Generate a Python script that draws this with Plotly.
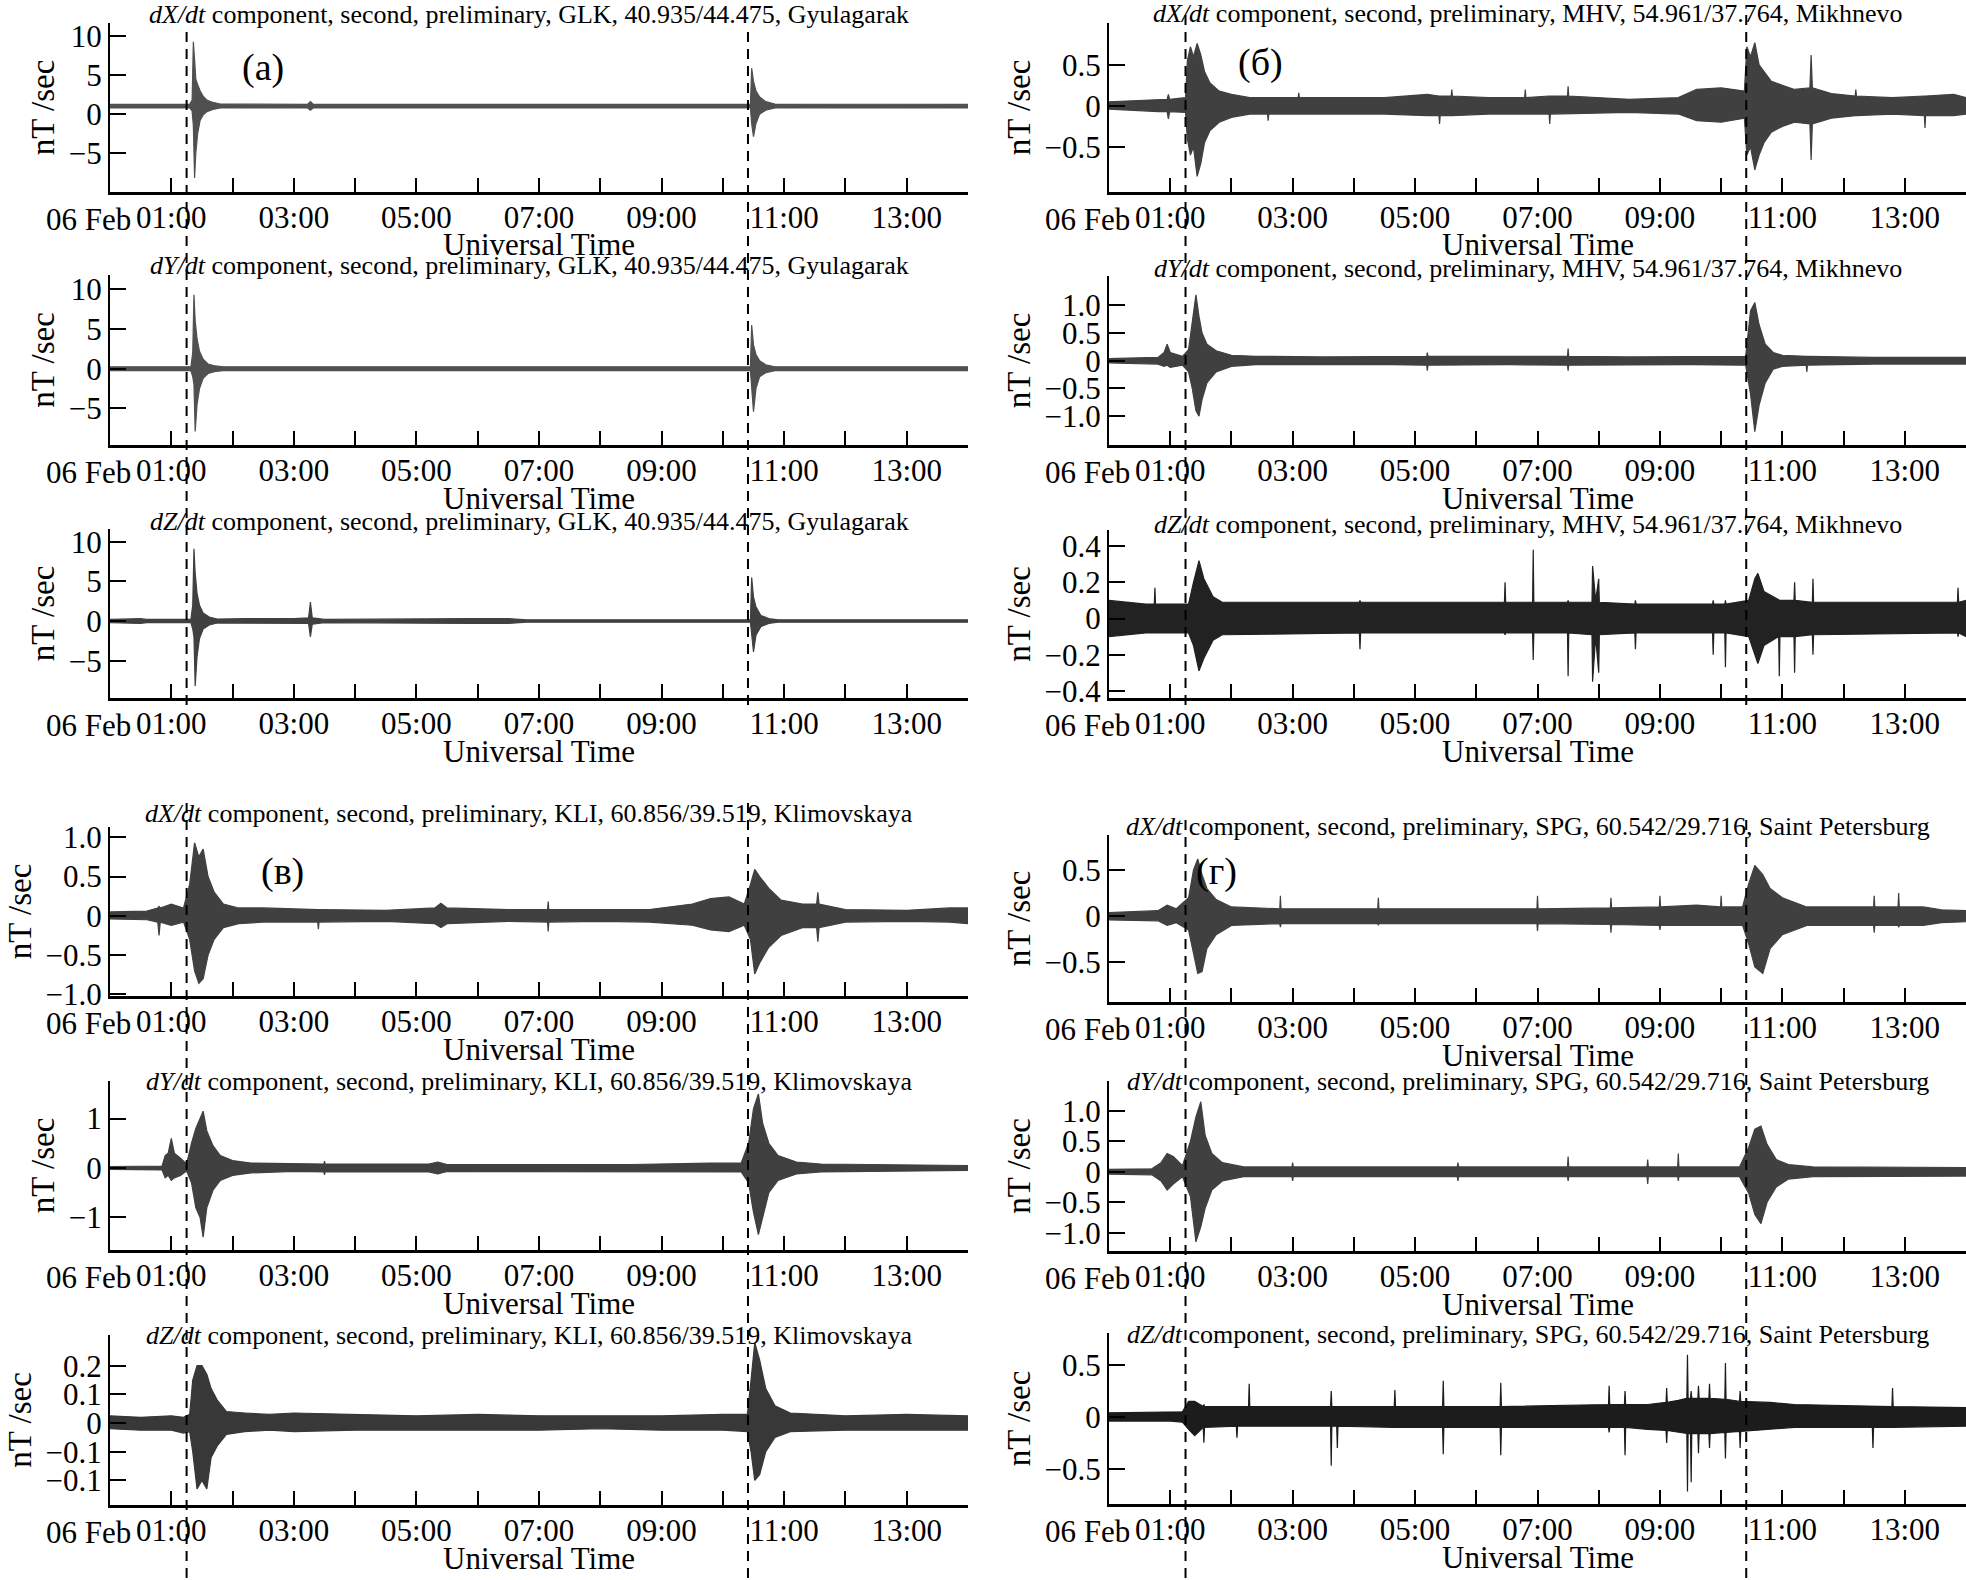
import plotly.graph_objects as go

# envelopes of the dB/dt records: (hours UT on 06 Feb, lower, upper), nT/sec
GLK_DX = [(0.0, 0.8, 1.25), (1.30, 0.8, 1.25), (1.34, 0.4, 1.8), (1.36, -1.5, 9.3), (1.38, -8.2, 7.0),
          (1.40, -5.0, 4.5), (1.43, -2.5, 3.8), (1.47, -0.8, 3.0), (1.52, -0.1, 2.3), (1.58, 0.3, 1.8),
          (1.68, 0.6, 1.5), (1.80, 0.8, 1.3), (3.22, 0.8, 1.25), (3.27, 0.5, 1.6), (3.32, 0.8, 1.25),
          (10.45, 0.8, 1.25), (10.47, -1.2, 5.9), (10.50, -2.9, 4.2), (10.54, -1.2, 3.0), (10.60, 0.0, 2.2),
          (10.70, 0.5, 1.6), (10.85, 0.8, 1.3), (14.0, 0.8, 1.25)]
GLK_DY = [(0.0, -0.25, 0.25), (1.32, -0.25, 0.25), (1.35, -1.0, 2.0), (1.37, -2.0, 9.3), (1.39, -7.9, 6.0),
          (1.42, -4.5, 3.8), (1.46, -2.5, 2.2), (1.52, -1.2, 1.2), (1.60, -0.6, 0.6), (1.72, -0.35, 0.35),
          (1.85, -0.25, 0.25), (10.45, -0.25, 0.25), (10.47, -2.0, 5.5), (10.50, -5.4, 3.0), (10.54, -2.5, 1.8),
          (10.60, -1.0, 1.0), (10.70, -0.5, 0.5), (10.85, -0.25, 0.25), (14.0, -0.25, 0.25)]
GLK_DZ = [(0.0, -0.2, 0.2), (0.5, -0.3, 0.3), (0.6, -0.2, 0.2), (1.32, -0.2, 0.2), (1.35, -1.0, 2.0),
          (1.37, -2.0, 9.1), (1.39, -8.2, 6.0), (1.42, -4.5, 3.5), (1.46, -2.2, 2.0), (1.52, -1.0, 1.0),
          (1.62, -0.5, 0.5), (1.75, -0.25, 0.25), (2.2, -0.3, 0.3), (3.0, -0.3, 0.3), (3.24, -0.3, 0.4),
          (3.27, -2.0, 2.4), (3.30, -0.4, 0.4), (3.5, -0.2, 0.2), (5.9, -0.3, 0.3), (6.5, -0.3, 0.3),
          (6.8, -0.15, 0.15), (10.45, -0.15, 0.15), (10.47, -2.0, 5.5), (10.50, -3.9, 3.0), (10.54, -1.8, 1.8),
          (10.62, -0.7, 0.7), (10.75, -0.3, 0.3), (10.9, -0.15, 0.15), (14.0, -0.15, 0.15)]

MHV_DX = [(0.0, -0.04, 0.05), (0.8, -0.07, 0.08), (0.95, -0.07, 0.08), (0.97, -0.16, 0.14), (0.99, -0.07, 0.08),
          (1.25, -0.08, 0.1), (1.28, -0.4, 0.55), (1.33, -0.6, 0.72), (1.38, -0.5, 0.6), (1.44, -0.86, 0.76),
          (1.5, -0.7, 0.62), (1.56, -0.45, 0.42), (1.65, -0.3, 0.28), (1.8, -0.2, 0.18), (2.0, -0.14, 0.14),
          (2.3, -0.1, 0.1), (2.59, -0.1, 0.1), (2.6, -0.18, 0.1), (2.61, -0.1, 0.1), (3.09, -0.1, 0.1),
          (3.1, -0.1, 0.16), (3.11, -0.1, 0.1), (4.5, -0.1, 0.1), (5.2, -0.12, 0.14), (5.39, -0.12, 0.12),
          (5.4, -0.22, 0.12), (5.41, -0.12, 0.12), (5.59, -0.12, 0.12), (5.6, -0.12, 0.2), (5.61, -0.12, 0.12),
          (6.2, -0.1, 0.1), (6.79, -0.1, 0.1), (6.8, -0.1, 0.2), (6.81, -0.1, 0.1), (7.19, -0.1, 0.12),
          (7.2, -0.22, 0.12), (7.21, -0.1, 0.12), (7.49, -0.1, 0.12), (7.5, -0.1, 0.24), (7.51, -0.1, 0.12),
          (8.5, -0.08, 0.08), (9.3, -0.1, 0.1), (9.6, -0.18, 0.2), (10.0, -0.2, 0.22), (10.38, -0.15, 0.18),
          (10.42, -0.6, 0.72), (10.48, -0.5, 0.6), (10.55, -0.78, 0.77), (10.62, -0.6, 0.5), (10.7, -0.45, 0.42),
          (10.82, -0.32, 0.3), (11.0, -0.25, 0.25), (11.2, -0.2, 0.2), (11.45, -0.22, 0.22), (11.47, -0.66, 0.62),
          (11.49, -0.22, 0.22), (11.8, -0.15, 0.15), (12.19, -0.12, 0.12), (12.2, -0.12, 0.2), (12.21, -0.12, 0.12),
          (12.8, -0.1, 0.1), (13.32, -0.12, 0.12), (13.33, -0.27, 0.12), (13.34, -0.12, 0.12), (13.8, -0.12, 0.14),
          (14.0, -0.1, 0.1)]
MHV_DY = [(0.0, -0.04, 0.04), (0.8, -0.06, 0.06), (0.9, -0.1, 0.15), (0.95, -0.08, 0.3), (1.0, -0.12, 0.15),
          (1.2, -0.08, 0.08), (1.3, -0.2, 0.2), (1.36, -0.5, 0.7), (1.42, -0.9, 1.19), (1.47, -1.0, 0.8),
          (1.52, -0.7, 0.5), (1.6, -0.4, 0.3), (1.75, -0.2, 0.18), (2.0, -0.1, 0.1), (2.4, -0.07, 0.08),
          (3.5, -0.07, 0.07), (4.6, -0.07, 0.08), (5.19, -0.08, 0.08), (5.2, -0.18, 0.15), (5.21, -0.08, 0.08),
          (6.5, -0.07, 0.08), (7.49, -0.08, 0.08), (7.5, -0.18, 0.22), (7.51, -0.08, 0.08), (8.5, -0.07, 0.07),
          (9.5, -0.07, 0.08), (10.4, -0.08, 0.08), (10.48, -0.6, 0.9), (10.55, -1.28, 1.05), (10.62, -0.8, 0.65),
          (10.72, -0.4, 0.3), (10.85, -0.15, 0.15), (11.0, -0.1, 0.1), (11.39, -0.08, 0.08), (11.4, -0.2, 0.08),
          (11.41, -0.08, 0.08), (12.5, -0.06, 0.06), (14.0, -0.06, 0.06)]
MHV_DZ = [(0.0, -0.1, 0.1), (0.6, -0.08, 0.08), (0.74, -0.08, 0.08), (0.75, -0.08, 0.17), (0.76, -0.08, 0.08),
          (1.3, -0.08, 0.08), (1.38, -0.15, 0.2), (1.47, -0.29, 0.32), (1.55, -0.22, 0.22), (1.7, -0.12, 0.12),
          (1.85, -0.09, 0.09), (4.09, -0.08, 0.09), (4.1, -0.17, 0.1), (4.11, -0.08, 0.09), (6.46, -0.08, 0.09),
          (6.47, -0.09, 0.2), (6.48, -0.08, 0.09), (6.92, -0.08, 0.09), (6.93, -0.23, 0.38), (6.94, -0.08, 0.09),
          (7.49, -0.08, 0.09), (7.5, -0.32, 0.1), (7.51, -0.08, 0.09), (7.89, -0.09, 0.09), (7.9, -0.35, 0.29),
          (7.95, -0.1, 0.1), (8.0, -0.3, 0.22), (8.01, -0.09, 0.09), (8.59, -0.08, 0.08), (8.6, -0.17, 0.1),
          (8.61, -0.08, 0.08), (9.86, -0.08, 0.08), (9.87, -0.2, 0.1), (9.88, -0.08, 0.08), (10.06, -0.08, 0.08),
          (10.07, -0.27, 0.1), (10.08, -0.08, 0.08), (10.45, -0.1, 0.1), (10.55, -0.2, 0.22), (10.6, -0.25, 0.25),
          (10.7, -0.15, 0.15), (10.94, -0.1, 0.1), (10.95, -0.32, 0.1), (10.96, -0.1, 0.1), (11.19, -0.1, 0.1),
          (11.2, -0.3, 0.2), (11.21, -0.1, 0.1), (11.49, -0.09, 0.09), (11.5, -0.2, 0.22), (11.51, -0.09, 0.09),
          (13.86, -0.08, 0.09), (13.87, -0.1, 0.17), (13.88, -0.08, 0.09), (14.0, -0.1, 0.1)]

KLI_DX = [(0.0, -0.04, 0.05), (0.6, -0.05, 0.06), (0.78, -0.08, 0.1), (0.8, -0.25, 0.12), (0.82, -0.08, 0.1),
          (1.0, -0.12, 0.15), (1.2, -0.08, 0.1), (1.3, -0.3, 0.4), (1.38, -0.7, 0.93), (1.45, -0.86, 0.75),
          (1.52, -0.8, 0.85), (1.6, -0.5, 0.5), (1.7, -0.3, 0.3), (1.85, -0.15, 0.15), (2.1, -0.1, 0.1),
          (2.5, -0.08, 0.1), (3.39, -0.08, 0.08), (3.4, -0.17, 0.08), (3.41, -0.08, 0.08), (4.5, -0.07, 0.07),
          (5.3, -0.1, 0.1), (5.4, -0.15, 0.16), (5.5, -0.1, 0.1), (6.5, -0.07, 0.08), (7.14, -0.08, 0.08),
          (7.15, -0.2, 0.18), (7.16, -0.08, 0.08), (8.0, -0.07, 0.08), (8.8, -0.08, 0.08), (9.5, -0.12, 0.15),
          (9.8, -0.18, 0.22), (10.1, -0.2, 0.24), (10.35, -0.12, 0.15), (10.45, -0.3, 0.4), (10.52, -0.74, 0.59),
          (10.6, -0.6, 0.5), (10.75, -0.4, 0.35), (10.95, -0.25, 0.2), (11.3, -0.15, 0.15), (11.53, -0.15, 0.15),
          (11.55, -0.33, 0.3), (11.57, -0.15, 0.15), (12.0, -0.08, 0.08), (13.0, -0.07, 0.07), (13.7, -0.08, 0.1),
          (14.0, -0.1, 0.1)]
KLI_DY = [(0.0, -0.03, 0.03), (0.85, -0.04, 0.04), (0.9, -0.2, 0.25), (0.95, -0.15, 0.3), (1.0, -0.25, 0.6),
          (1.05, -0.2, 0.3), (1.15, -0.15, 0.2), (1.25, -0.06, 0.08), (1.33, -0.3, 0.5), (1.40, -0.8, 0.8),
          (1.47, -1.0, 1.0), (1.52, -1.4, 1.15), (1.58, -0.8, 0.75), (1.68, -0.45, 0.45), (1.8, -0.25, 0.25),
          (2.0, -0.15, 0.15), (2.3, -0.1, 0.1), (3.0, -0.07, 0.08), (3.49, -0.08, 0.08), (3.5, -0.14, 0.14),
          (3.51, -0.08, 0.08), (5.2, -0.08, 0.08), (5.35, -0.12, 0.12), (5.5, -0.07, 0.07), (7.0, -0.07, 0.07),
          (8.5, -0.08, 0.07), (9.8, -0.08, 0.1), (10.3, -0.08, 0.1), (10.42, -0.3, 0.5), (10.5, -0.9, 1.2),
          (10.58, -1.35, 1.5), (10.65, -1.0, 0.9), (10.75, -0.5, 0.5), (10.9, -0.25, 0.25), (11.2, -0.12, 0.12),
          (11.6, -0.08, 0.08), (14.0, -0.05, 0.05)]
KLI_DZ = [(0.0, -0.02, 0.025), (0.5, -0.025, 0.02), (1.0, -0.025, 0.025), (1.2, -0.035, 0.02), (1.3, -0.03, 0.03),
          (1.35, -0.1, 0.15), (1.42, -0.23, 0.2), (1.5, -0.2, 0.2), (1.58, -0.23, 0.17), (1.65, -0.12, 0.12),
          (1.75, -0.08, 0.08), (1.9, -0.04, 0.04), (2.2, -0.03, 0.035), (2.6, -0.025, 0.03), (3.0, -0.03, 0.035),
          (4.0, -0.025, 0.03), (5.0, -0.025, 0.025), (6.0, -0.025, 0.03), (7.0, -0.025, 0.025), (8.0, -0.02, 0.025),
          (9.0, -0.025, 0.025), (10.0, -0.025, 0.03), (10.4, -0.03, 0.03), (10.46, -0.1, 0.15), (10.52, -0.2, 0.28),
          (10.6, -0.18, 0.22), (10.7, -0.1, 0.12), (10.85, -0.05, 0.06), (11.1, -0.03, 0.035), (12.0, -0.025, 0.025),
          (13.0, -0.025, 0.03), (14.0, -0.025, 0.025)]

SPG_DX = [(0.0, -0.04, 0.04), (0.8, -0.05, 0.06), (0.95, -0.1, 0.12), (1.1, -0.07, 0.08), (1.3, -0.15, 0.2),
          (1.38, -0.4, 0.5), (1.45, -0.62, 0.62), (1.52, -0.6, 0.45), (1.6, -0.35, 0.3), (1.75, -0.2, 0.18),
          (2.0, -0.1, 0.1), (2.79, -0.08, 0.08), (2.8, -0.12, 0.22), (2.81, -0.08, 0.08), (4.39, -0.08, 0.08),
          (4.4, -0.1, 0.2), (4.41, -0.08, 0.08), (5.5, -0.08, 0.08), (6.99, -0.08, 0.08), (7.0, -0.16, 0.22),
          (7.01, -0.08, 0.08), (8.19, -0.09, 0.09), (8.2, -0.18, 0.2), (8.21, -0.09, 0.09), (8.99, -0.1, 0.1),
          (9.0, -0.15, 0.22), (9.01, -0.1, 0.1), (9.6, -0.1, 0.12), (9.99, -0.1, 0.1), (10.0, -0.1, 0.22),
          (10.01, -0.1, 0.1), (10.35, -0.1, 0.1), (10.45, -0.3, 0.35), (10.55, -0.55, 0.55), (10.68, -0.62, 0.45),
          (10.8, -0.35, 0.3), (11.0, -0.2, 0.2), (11.4, -0.1, 0.1), (12.49, -0.1, 0.1), (12.5, -0.18, 0.22),
          (12.51, -0.1, 0.1), (12.89, -0.1, 0.1), (12.9, -0.12, 0.25), (12.91, -0.1, 0.1), (13.3, -0.1, 0.1),
          (13.6, -0.07, 0.07), (14.0, -0.06, 0.06)]
SPG_DY = [(0.0, -0.04, 0.04), (0.7, -0.05, 0.05), (0.85, -0.15, 0.15), (0.95, -0.3, 0.3), (1.05, -0.2, 0.25),
          (1.2, -0.08, 0.1), (1.33, -0.4, 0.5), (1.42, -1.15, 0.9), (1.5, -0.9, 1.15), (1.57, -0.6, 0.6),
          (1.68, -0.3, 0.3), (1.85, -0.15, 0.15), (2.2, -0.08, 0.08), (2.99, -0.08, 0.08), (3.0, -0.15, 0.15),
          (3.01, -0.08, 0.08), (5.69, -0.08, 0.08), (5.7, -0.15, 0.15), (5.71, -0.08, 0.08), (7.49, -0.08, 0.08),
          (7.5, -0.15, 0.25), (7.51, -0.08, 0.08), (8.79, -0.08, 0.08), (8.8, -0.2, 0.2), (8.81, -0.08, 0.08),
          (9.29, -0.08, 0.08), (9.3, -0.15, 0.3), (9.31, -0.08, 0.08), (10.3, -0.08, 0.08), (10.45, -0.35, 0.4),
          (10.55, -0.7, 0.7), (10.65, -0.85, 0.75), (10.75, -0.5, 0.45), (10.9, -0.25, 0.2), (11.1, -0.12, 0.12),
          (11.5, -0.08, 0.08), (14.0, -0.07, 0.07)]
SPG_DZ = [(0.0, -0.04, 0.04), (1.0, -0.04, 0.05), (1.2, -0.05, 0.05), (1.3, -0.12, 0.15), (1.4, -0.18, 0.15),
          (1.54, -0.1, 0.1), (1.55, -0.25, 0.12), (1.56, -0.1, 0.1), (2.08, -0.09, 0.1), (2.09, -0.2, 0.1),
          (2.1, -0.09, 0.1), (2.28, -0.09, 0.1), (2.29, -0.09, 0.32), (2.3, -0.09, 0.1), (3.62, -0.09, 0.1),
          (3.63, -0.47, 0.25), (3.64, -0.09, 0.1), (3.72, -0.09, 0.1), (3.73, -0.3, 0.1), (3.74, -0.09, 0.1),
          (4.66, -0.1, 0.1), (4.67, -0.1, 0.26), (4.68, -0.1, 0.1), (5.45, -0.1, 0.1), (5.46, -0.36, 0.35),
          (5.47, -0.1, 0.1), (6.39, -0.1, 0.1), (6.4, -0.37, 0.33), (6.41, -0.1, 0.1), (8.16, -0.1, 0.12),
          (8.17, -0.15, 0.3), (8.18, -0.1, 0.12), (8.42, -0.1, 0.12), (8.43, -0.37, 0.25), (8.44, -0.1, 0.12),
          (8.8, -0.12, 0.12), (9.1, -0.13, 0.14), (9.11, -0.25, 0.28), (9.12, -0.13, 0.14), (9.3, -0.15, 0.16),
          (9.44, -0.16, 0.18), (9.45, -0.72, 0.6), (9.46, -0.16, 0.18), (9.5, -0.16, 0.18), (9.51, -0.63, 0.25),
          (9.52, -0.16, 0.18), (9.62, -0.16, 0.18), (9.63, -0.35, 0.3), (9.64, -0.16, 0.18), (9.8, -0.16, 0.18),
          (9.81, -0.3, 0.32), (9.82, -0.16, 0.18), (10.06, -0.15, 0.17), (10.07, -0.4, 0.52), (10.08, -0.15, 0.17),
          (10.3, -0.14, 0.15), (10.31, -0.3, 0.25), (10.32, -0.14, 0.15), (10.8, -0.12, 0.14), (11.2, -0.1, 0.12),
          (12.47, -0.1, 0.1), (12.48, -0.3, 0.1), (12.49, -0.1, 0.1), (12.79, -0.1, 0.1), (12.8, -0.1, 0.28),
          (12.81, -0.1, 0.1), (14.0, -0.09, 0.09)]

EVENT_TIMES = [1.25, 10.41]  # dashed markers, hours UT
HOURS = list(range(1, 14))
HOUR_LABELS = [f"{h:02d}:00" if h % 2 else "" for h in HOURS]

STATIONS = {
    "GLK": "GLK, 40.935/44.475, Gyulagarak",
    "MHV": "MHV, 54.961/37.764, Mikhnevo",
    "KLI": "KLI, 60.856/39.519, Klimovskaya",
    "SPG": "SPG, 60.542/29.716, Saint Petersburg",
}

W, H = 1966, 1580
FONT = "Liberation Serif"
COLS = [(110, 968), (1109, 1966)]


def py(p):
    return 1 - p / H


def px(p):
    return p / W


def title(comp, st):
    return f"<i>d{comp}/dt</i> component, second, preliminary, {STATIONS[st]}"


# col, top, bottom (px), title y, data, component, station, y range, tick values, tick labels, colour
panels = [
    (0, 23, 192, 14, GLK_DX, "X", "GLK", [-10, 11.7], [-5, 0, 5, 10], ["−5", "0", "5", "10"], "#505050"),
    (0, 275, 445, 265, GLK_DY, "Y", "GLK", [-9.6, 11.8], [-5, 0, 5, 10], ["−5", "0", "5", "10"], "#505050"),
    (0, 529, 698, 521, GLK_DZ, "Z", "GLK", [-9.7, 11.6], [-5, 0, 5, 10], ["−5", "0", "5", "10"], "#404040"),
    (0, 827, 996, 813, KLI_DX, "X", "KLI", [-1.02, 1.13], [-1, -0.5, 0, 0.5, 1],
     ["−1.0", "−0.5", "0", "0.5", "1.0"], "#404040"),
    (0, 1081, 1250, 1081, KLI_DY, "Y", "KLI", [-1.66, 1.76], [-1, 0, 1], ["−1", "0", "1"], "#404040"),
    (0, 1335, 1505, 1335, KLI_DZ, "Z", "KLI", [-0.286, 0.307], [-0.2, -0.1, 0, 0.1, 0.2],
     ["−0.1", "−0.1", "0", "0.1", "0.2"], "#383838"),
    (1, 23, 192, 13, MHV_DX, "X", "MHV", [-1.05, 1.01], [-0.5, 0, 0.5], ["−0.5", "0", "0.5"], "#404040"),
    (1, 276, 445, 268, MHV_DY, "Y", "MHV", [-1.52, 1.53], [-1, -0.5, 0, 0.5, 1],
     ["−1.0", "−0.5", "0", "0.5", "1.0"], "#404040"),
    (1, 530, 698, 524, MHV_DZ, "Z", "MHV", [-0.44, 0.49], [-0.4, -0.2, 0, 0.2, 0.4],
     ["−0.4", "−0.2", "0", "0.2", "0.4"], "#222222"),
    (1, 835, 1002, 826, SPG_DX, "X", "SPG", [-0.93, 0.88], [-0.5, 0, 0.5], ["−0.5", "0", "0.5"], "#404040"),
    (1, 1081, 1251, 1081, SPG_DY, "Y", "SPG", [-1.3, 1.49], [-1, -0.5, 0, 0.5, 1],
     ["−1.0", "−0.5", "0", "0.5", "1.0"], "#404040"),
    (1, 1333, 1504, 1334, SPG_DZ, "Z", "SPG", [-0.84, 0.81], [-0.5, 0, 0.5], ["−0.5", "0", "0.5"], "#1c1c1c"),
]

fig = go.Figure()
annotations = []
axes = {}

for i, (col, top, bot, ty, data, comp, st, yr, tv, tt, color) in enumerate(panels):
    n = i + 1
    xa = "x" if n == 1 else f"x{n}"
    ya = "y" if n == 1 else f"y{n}"
    x0, x1 = COLS[col]
    t = [d[0] for d in data]
    lo = [d[1] for d in data]
    hi = [d[2] for d in data]
    fig.add_trace(go.Scatter(
        x=t + t[::-1], y=hi + lo[::-1], fill="toself", mode="lines",
        fillcolor=color, line=dict(color=color, width=1.2),
        xaxis=xa, yaxis=ya, showlegend=False, hoverinfo="skip"))

    axes["xaxis" if n == 1 else f"xaxis{n}"] = dict(
        domain=[px(x0), px(x1)], anchor=ya, range=[0, 14],
        tickvals=HOURS, ticktext=HOUR_LABELS, ticks="inside", ticklen=14, tickwidth=2,
        tickcolor="black", showline=True, linewidth=3, linecolor="black",
        showgrid=False, zeroline=False, automargin=False, ticklabelstandoff=-4,
        tickfont=dict(family=FONT, size=31, color="black"))
    axes["yaxis" if n == 1 else f"yaxis{n}"] = dict(
        domain=[py(bot), py(top)], anchor=xa, range=yr,
        tickvals=tv, ticktext=tt, ticks="inside", ticklen=16, tickwidth=2,
        tickcolor="black", showline=True, linewidth=2, linecolor="black",
        showgrid=False, zeroline=False, automargin=False,
        tickfont=dict(family=FONT, size=31, color="black"),
        title=dict(text="nT /sec", standoff=4, font=dict(family=FONT, size=33, color="black")))

    annotations.append(dict(
        text=title(comp, st), x=px((x0 + x1) / 2 - 10), y=py(ty), xref="paper", yref="paper",
        xanchor="center", yanchor="middle", showarrow=False,
        font=dict(family=FONT, size=26, color="black")))
    annotations.append(dict(
        text="06 Feb", x=1, y=py(bot), xref=xa, yref="paper", xanchor="right", yanchor="top",
        xshift=-38, yshift=-8, showarrow=False, font=dict(family=FONT, size=31, color="black")))
    annotations.append(dict(
        text="Universal Time", x=px((x0 + x1) / 2), y=py(bot + 53), xref="paper", yref="paper",
        xanchor="center", yanchor="middle", showarrow=False,
        font=dict(family=FONT, size=31, color="black")))

# panel labels
for text, xp, yp in [("(а)", 263, 67), ("(б)", 1260, 63), ("(в)", 282, 871), ("(г)", 1216, 871)]:
    annotations.append(dict(text=text, x=px(xp), y=py(yp), xref="paper", yref="paper",
                            xanchor="center", yanchor="middle", showarrow=False,
                            font=dict(family=FONT, size=38, color="black")))

# dashed event markers spanning each group of three panels
shapes = []
for xref, spans in [("x", [(28, 705), (800, 1578)]), ("x7", [(8, 705), (818, 1578)])]:
    for et in EVENT_TIMES:
        for y0, y1 in spans:
            shapes.append(dict(type="line", xref=xref, yref="paper", x0=et, x1=et,
                               y0=py(y1), y1=py(y0),
                               line=dict(color="black", width=2, dash="10px,7px")))

fig.update_layout(
    width=W, height=H, margin=dict(l=0, r=0, t=0, b=0),
    paper_bgcolor="white", plot_bgcolor="white",
    annotations=annotations, shapes=shapes, **axes)

fig.write_html("out.html", config={"displayModeBar": False},
               post_script="document.body.style.margin='0';")
